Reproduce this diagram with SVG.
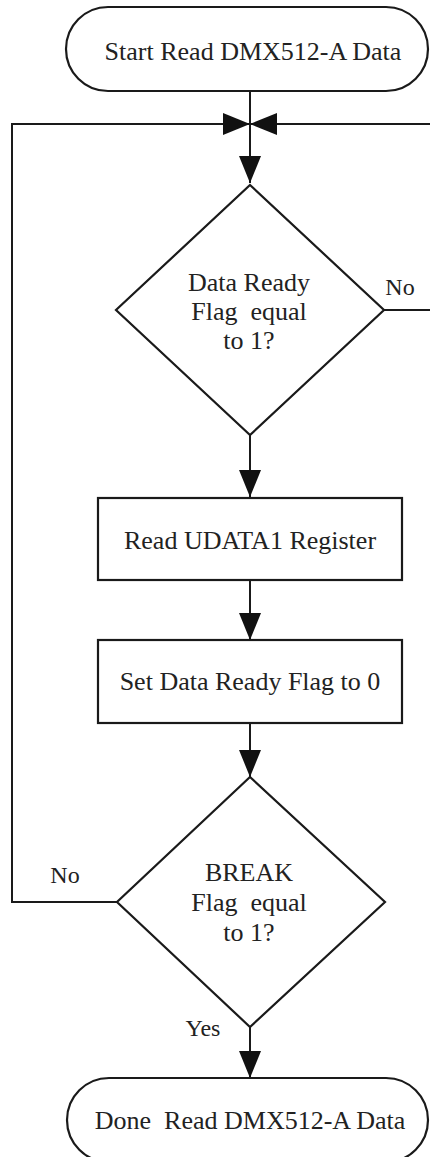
<svg xmlns="http://www.w3.org/2000/svg" width="430" height="1157" viewBox="0 0 430 1157">
<defs>
<style>
.shape{fill:#ffffff;stroke:#1a1a1a;stroke-width:2.2}
.conn{fill:none;stroke:#1a1a1a;stroke-width:2}
.t{font-family:"Liberation Serif","Times New Roman",serif;font-size:26px;fill:#222;text-anchor:middle;white-space:pre}
.lbl{font-family:"Liberation Serif","Times New Roman",serif;font-size:24px;fill:#222;text-anchor:middle}
</style>
<marker id="arr" markerUnits="userSpaceOnUse" markerWidth="28" markerHeight="22" refX="27" refY="11" orient="auto">
<path d="M0,0 L27,11 L0,22 z" fill="#111"/>
</marker>
</defs>
<rect width="430" height="1157" fill="#ffffff"/>
<g id="connectors">
<path class="conn" d="M250,91 V183" marker-end="url(#arr)"/>
<path class="conn" d="M384,310 H433 V124 H250" marker-end="url(#arr)"/>
<path class="conn" d="M117,902 H12 V124 H250" marker-end="url(#arr)"/>
<path class="conn" d="M250,435 V497" marker-end="url(#arr)"/>
<path class="conn" d="M250,580 V640" marker-end="url(#arr)"/>
<path class="conn" d="M250,723 V777" marker-end="url(#arr)"/>
<path class="conn" d="M250,1027 V1078" marker-end="url(#arr)"/>
<text class="lbl" x="400" y="295">No</text>
<text class="lbl" x="65" y="883">No</text>
<text class="lbl" x="203" y="1036">Yes</text>
</g>
<g id="start">
<rect class="shape" x="66" y="7" width="362" height="84" rx="42" ry="42"/>
<text class="t" x="253" y="60">Start Read DMX512-A Data</text>
</g>
<g id="check-ready">
<polygon class="shape" points="250,185 384,310 250,435 116,310"/>
<text class="t" x="249" y="291">Data Ready</text>
<text class="t" x="249" y="320">Flag  equal</text>
<text class="t" x="249" y="349">to 1?</text>
</g>
<g id="read-udata">
<rect class="shape" x="98" y="498" width="304" height="82"/>
<text class="t" x="250" y="549">Read UDATA1 Register</text>
</g>
<g id="set-flag">
<rect class="shape" x="98" y="640" width="304" height="83"/>
<text class="t" x="250" y="690">Set Data Ready Flag to 0</text>
</g>
<g id="check-break">
<polygon class="shape" points="250,777 385,902 250,1027 117,902"/>
<text class="t" x="249" y="881">BREAK</text>
<text class="t" x="249" y="911">Flag  equal</text>
<text class="t" x="249" y="941">to 1?</text>
</g>
<g id="done">
<rect class="shape" x="67" y="1078" width="361" height="84" rx="42" ry="42"/>
<text class="t" x="250" y="1129">Done  Read DMX512-A Data</text>
</g>
</svg>
